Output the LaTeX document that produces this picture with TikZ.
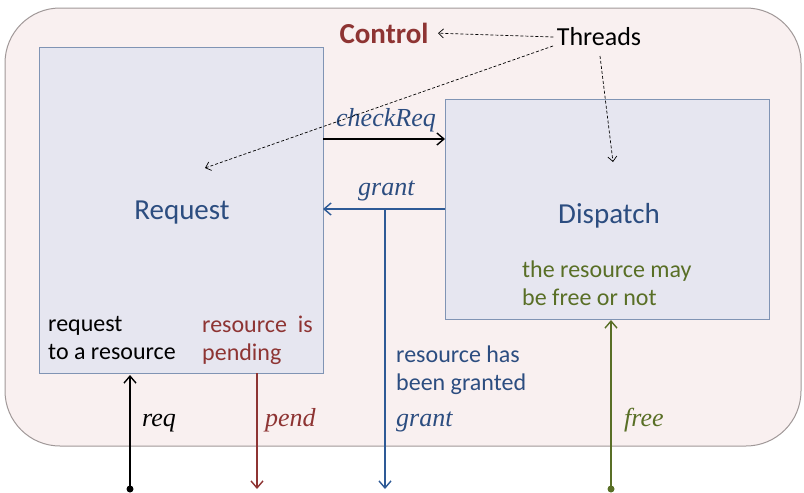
\documentclass[tikz,border=0pt]{standalone}
\usepackage{fontspec}
\setmainfont{Carlito}
\newfontfamily\labfont{Liberation Serif}
\usetikzlibrary{arrows.meta}
\definecolor{outerfill}{HTML}{F9F0F0}
\definecolor{outerdraw}{HTML}{A09898}
\definecolor{boxfill}{HTML}{E6E6F0}
\definecolor{boxdraw}{HTML}{8094B4}
\definecolor{dblue}{HTML}{2C4D80}
\definecolor{gblue}{HTML}{2E5A96}
\definecolor{dred}{HTML}{8E3433}
\definecolor{olive}{HTML}{596F26}
\tikzset{
  x=1pt,y=-1pt,
  sig/.style={line width=1.4pt,-{Straight Barb[length=7pt,width=12pt]}},
  lab/.style={font=\labfont\itshape\fontsize{26}{28}\selectfont,inner sep=0pt,anchor=base west},
  txt/.style={font=\fontsize{24}{28}\selectfont,align=left,inner sep=0pt,anchor=north west},
  big/.style={font=\fontsize{29}{32}\selectfont},
  bigbold/.style={font=\bfseries\fontsize{29}{32}\selectfont},
  thr/.style={densely dashed,line width=0.7pt,-{Straight Barb[length=5pt,width=9pt]}},
  dotc/.style={circle,fill,inner sep=0pt,minimum size=7pt}
}
\begin{document}
\begin{tikzpicture}
\useasboundingbox (0,0) rectangle (804,493);
\draw[outerdraw,fill=outerfill,line width=1pt,rounded corners=55pt] (5,8) rectangle (801,446);
% boxes
\node[draw=boxdraw,fill=boxfill,line width=1pt,inner sep=0pt,minimum width=284pt,minimum height=326pt,anchor=north west] (req) at (39,47) {};
\node[draw=boxdraw,fill=boxfill,line width=1pt,inner sep=0pt,minimum width=324pt,minimum height=220pt,anchor=north west] (dis) at (445,99) {};
\node[text=dblue,big] (reqt) at (182,213) {Request};
\node[text=dblue,big] (dist) at (609,216) {Dispatch};
\node[text=dred,bigbold] (ctrl) at (384,33) {Control};
\node[font=\fontsize{26}{28}\selectfont] (thr) at (599,37) {Threads};
% inner texts
\node[txt] (t1) at (48,316) {request\\to a resource};
\node[txt,text=dred] (t2) at (202,316) {resource\ \ is\\pending};
\node[txt,text=olive] (t3) at (522,261) {the resource may\\be free or not};
\node[txt,text=dblue] (t4) at (396,346) {resource has\\been granted};
% coordinates
\coordinate (ck1) at (323,139);
\coordinate (ck2) at (445,139);
\coordinate (gr1) at (445,209);
\coordinate (gr2) at (323,209);
\coordinate (gj) at (385,209);
\coordinate (gend) at (385,489);
\coordinate (rqs) at (130,489);
\coordinate (rqe) at (130,375);
\coordinate (pds) at (257,373);
\coordinate (pde) at (257,489);
\coordinate (frs) at (611,489);
\coordinate (fre) at (611,320);
% connectors
\draw[sig] (ck1) -- (ck2);
\draw[sig,gblue] (gr1) -- (gr2);
\draw[sig,gblue] (gj) -- (gend);
\draw[sig] (rqs) -- (rqe);
\node[dotc] (d1) at (rqs) {};
\draw[sig,dred] (pds) -- (pde);
\draw[sig,olive] (frs) -- (fre);
\node[dotc,olive] (d2) at (frs) {};
% labels
\node[lab,text=dblue] (l1) at (336,126) {checkReq};
\node[lab,text=dblue] (l2) at (358,195) {grant};
\node[lab] (l3) at (142,426) {req};
\node[lab,text=dred] (l4) at (265,426) {pend};
\node[lab,text=dblue] (l5) at (396,426) {grant};
\node[lab,text=olive] (l6) at (624,426) {free};
% threads
\coordinate (tp1) at (205,168);
\coordinate (tp2) at (613,162);
\draw[thr,shorten >=6pt] (thr.west) -- (ctrl.east);
\draw[thr] (553,46) -- (tp1);
\draw[thr] (600,56) -- (tp2);
\end{tikzpicture}
\end{document}
